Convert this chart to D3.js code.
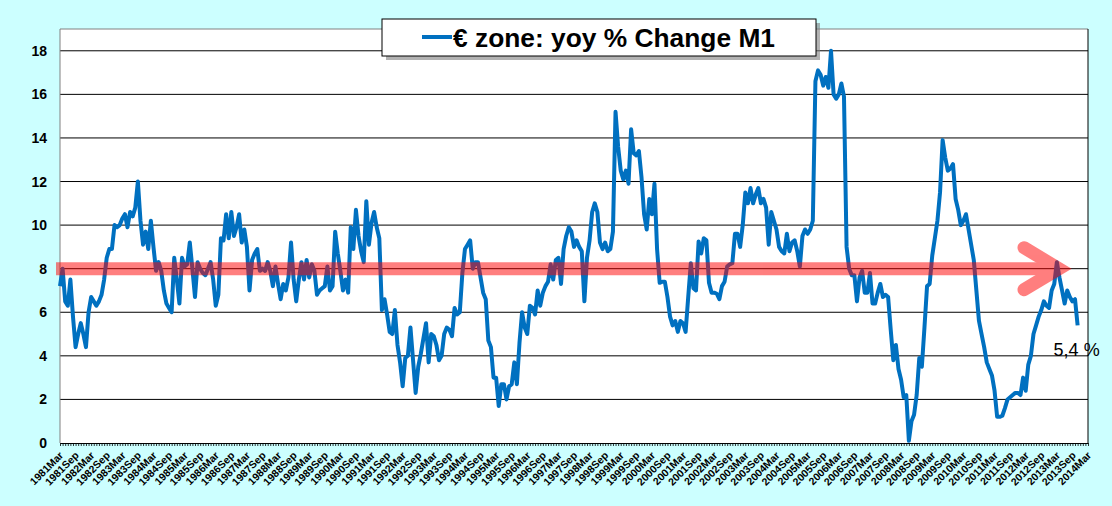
<!DOCTYPE html>
<html>
<head>
<meta charset="utf-8">
<script src="https://cdn.jsdelivr.net/npm/d3@7"></script>
<style>
body { margin: 0; background: #ccffff; }
svg { display: block; font-family: "Liberation Sans", Arial, sans-serif; }
</style>
</head>
<body>
<div id="chart"></div>
<script>
// monthly yoy % change of euro zone M1, first value = 1981Mar
var m1Growth = [
  7.2, 8.0, 6.5, 6.3, 7.5, 5.8, 4.4, 5.0, 5.5, 5.0,
  4.4, 6.0, 6.7, 6.5, 6.3, 6.5, 6.8, 7.5, 8.5, 8.9,
  8.9, 10.0, 9.9, 10.0, 10.3, 10.5, 9.9, 10.6, 10.4, 10.8,
  12.0, 10.2, 9.1, 9.7, 8.9, 10.2, 9.0, 7.9, 8.3, 7.9,
  7.0, 6.4, 6.2, 6.0, 8.5, 7.5, 6.4, 8.5, 8.1, 8.2,
  9.2, 8.0, 6.7, 8.3, 8.0, 7.8, 7.7, 8.0, 8.3, 7.5,
  6.3, 6.8, 9.4, 9.3, 10.5, 9.4, 10.6, 9.5, 9.9, 10.5,
  9.2, 9.8, 9.0, 7.0, 8.4, 8.7, 8.9, 7.9, 8.0, 7.9,
  8.3, 7.9, 7.2, 8.1, 7.3, 6.6, 7.3, 7.0, 7.6, 9.2,
  7.5, 6.5, 7.5, 8.3, 7.5, 8.4, 7.6, 8.2, 7.9, 6.8,
  7.0, 7.1, 7.2, 8.1, 7.0, 7.2, 9.7, 8.7, 7.9, 7.0,
  7.5, 6.9, 9.9, 8.9, 10.7, 9.5, 8.8, 8.3, 11.1, 9.1,
  10.1, 10.6, 9.9, 9.4, 6.1, 6.6, 5.9, 5.1, 5.0, 6.1,
  4.5, 3.7, 2.6, 3.9, 4.0, 5.3, 3.8, 2.3, 3.5, 4.1,
  4.8, 5.5, 3.7, 5.0, 4.9, 4.5, 3.8, 4.0, 5.0, 5.3,
  5.2, 4.9, 6.2, 5.9, 6.0, 7.8, 8.9, 9.1, 9.3, 8.0,
  8.3, 8.3, 7.6, 6.9, 6.6, 4.7, 4.4, 3.0, 3.0, 1.7,
  2.7, 2.7, 2.0, 2.6, 2.7, 3.7, 2.7, 4.6, 6.0, 5.3,
  5.0, 6.3, 6.2, 5.9, 7.0, 6.3, 6.9, 7.2, 7.4, 8.2,
  7.5, 8.4, 8.5, 7.3, 8.9, 9.5, 9.9, 9.7, 9.0, 9.3,
  9.0, 8.8, 6.5, 8.5, 9.3, 10.6, 11.0, 10.6, 9.2, 8.9,
  9.2, 8.8, 8.9, 9.7, 15.2, 13.6, 12.5, 12.1, 12.5, 11.9,
  14.4, 13.3, 13.2, 13.4, 12.2, 10.5, 9.8, 11.2, 10.5, 11.9,
  8.9, 7.35, 7.4, 7.4, 6.7, 5.8, 5.4, 5.6, 5.1, 5.6,
  5.5, 5.1, 6.7, 8.25, 7.1, 7.0, 9.25, 8.7, 9.4, 9.3,
  7.35, 6.9, 6.9, 6.85, 6.6, 7.2, 7.4, 8.1, 8.2, 8.25,
  9.6, 9.6, 9.0, 10.0, 11.5, 11.0, 11.7, 11.0, 11.4, 11.7,
  11.0, 11.2, 10.8, 9.1, 10.6, 10.2, 9.8, 9.0, 8.8, 8.7,
  9.6, 8.8, 9.2, 9.3, 8.8, 8.1, 9.5, 9.8, 9.6, 9.8,
  10.2, 16.6, 17.1, 16.9, 16.4, 16.8, 16.3, 18.0, 16.0, 15.8,
  16.0, 16.5, 15.9, 9.0, 8.0, 7.7, 7.7, 6.5, 7.6, 7.9,
  6.9, 6.9, 7.8, 6.4, 6.4, 6.9, 7.3, 6.7, 6.8, 6.7,
  5.2, 3.8, 4.5, 3.4, 2.9, 2.1, 2.2, 0.1, 1.0, 1.3,
  2.2, 3.9, 3.5, 5.3, 7.2, 7.3, 8.6, 9.4, 10.2, 11.5,
  13.9, 13.1, 12.5, 12.6, 12.8, 11.2, 10.7, 10.0, 10.2, 10.5,
  9.8, 9.1, 8.4, 7.0, 5.6, 5.0, 4.4, 3.7, 3.4, 3.1,
  2.4, 1.2, 1.2, 1.25, 1.6, 2.0, 2.1, 2.2, 2.3, 2.3,
  2.2, 3.0, 2.4, 3.6, 4.0, 5.0, 5.4, 5.8, 6.1, 6.5,
  6.3, 6.2, 7.0, 7.3, 8.3, 7.6, 7.0, 6.4, 7.0, 6.7,
  6.5, 6.6, 5.4
];

// category axis runs 1981Mar .. 2014Mar (monthly), labelled every 6 months
var firstYear = 1981;
var monthCount = 397;
var labelMonths = d3.range(0, monthCount, 6);
var tickLabels = labelMonths.map(function(i) {
    return (firstYear + Math.floor(i / 12)) + (i % 12 === 0 ? "Mar" : "Sep");
});
var yTicks = [0, 2, 4, 6, 8, 10, 12, 14, 16, 18];

var legendText = "€ zone: yoy % Change M1";
var lastLabel = "5,4 %";
var targetRate = 8;

var svgWidth = 1112;
var svgHeight = 506;

var margin = {
    top: 29,
    bottom: 63,
    right: 24,
    left: 60
};

var height = svgHeight - margin.top - margin.bottom;
var width = svgWidth - margin.left - margin.right;

var svg = d3.select("#chart")
    .append("svg")
    .attr("width", svgWidth)
    .attr("height", svgHeight);

svg.append("rect")
    .attr("width", svgWidth)
    .attr("height", svgHeight)
    .attr("fill", "#ccffff");

var chartGroup = svg.append("g")
    .attr("transform", `translate(${margin.left}, ${margin.top})`);

var x = d3.scaleLinear().domain([0, monthCount - 1]).range([0, width]);
var y = d3.scaleLinear().domain([0, 19]).range([height, 0]);

// plot area
chartGroup.append("rect")
    .attr("width", width)
    .attr("height", height)
    .attr("fill", "#fff");

// gridlines
chartGroup.selectAll(".grid")
    .data(yTicks.filter(d => d > 0))
    .enter().append("line")
    .attr("x1", 0)
    .attr("x2", width)
    .attr("y1", d => y(d))
    .attr("y2", d => y(d))
    .attr("stroke", "#000")
    .attr("stroke-width", 1);

// frame: grey top and left, black right
chartGroup.append("path")
    .attr("d", `M0,${height}V0H${width}`)
    .attr("fill", "none")
    .attr("stroke", "#808080")
    .attr("stroke-width", 1);
chartGroup.append("line")
    .attr("x1", width).attr("x2", width)
    .attr("y1", 0).attr("y2", height)
    .attr("stroke", "#000");

// y labels
chartGroup.selectAll(".ylab")
    .data(yTicks)
    .enter().append("text")
    .attr("x", -13)
    .attr("y", d => y(d))
    .attr("dy", "0.36em")
    .attr("text-anchor", "end")
    .attr("font-size", "14px")
    .attr("font-weight", "bold")
    .attr("fill", "#000")
    .text(d => d);

// x axis with monthly ticks
var bottomAxis = d3.axisBottom(x)
    .tickValues(d3.range(0, monthCount))
    .tickSize(3)
    .tickSizeOuter(0)
    .tickFormat("");

var xAxis = chartGroup.append("g")
    .attr("transform", `translate(0, ${height})`)
    .call(bottomAxis);
xAxis.select(".domain").attr("stroke", "#000").attr("stroke-width", 1.2);
xAxis.selectAll(".tick line").attr("stroke", "#000").attr("stroke-width", 0.8);

chartGroup.selectAll(".xlab")
    .data(labelMonths)
    .enter().append("text")
    .attr("transform", (d, i) => `translate(${x(d) + 4}, ${height + 13}) rotate(-45)`)
    .attr("text-anchor", "end")
    .attr("font-size", "10.5px")
    .attr("font-weight", "bold")
    .attr("fill", "#000")
    .text((d, i) => tickLabels[i]);

// the series
var line = d3.line()
    .x((d, i) => x(i))
    .y(d => y(d))
    .curve(d3.curveLinear);

chartGroup.append("path")
    .datum(m1Growth)
    .attr("d", line)
    .attr("fill", "none")
    .attr("stroke", "#0070c0")
    .attr("stroke-width", 4)
    .attr("stroke-linejoin", "round");

// translucent red arrow at 8 %
var arrowY = y(targetRate);
var arrowG = chartGroup.append("g").attr("opacity", 0.5);
arrowG.append("path")
    .attr("d", `M-4,${arrowY}H996`)
    .attr("stroke", "red")
    .attr("stroke-width", 13)
    .attr("fill", "none");
arrowG.append("path")
    .attr("d", `M964,${arrowY - 21}L999,${arrowY}L964,${arrowY + 21}`)
    .attr("stroke", "red")
    .attr("stroke-width", 13)
    .attr("stroke-linecap", "round")
    .attr("stroke-linejoin", "miter")
    .attr("fill", "none");

// last value label
chartGroup.append("text")
    .attr("x", x(m1Growth.length - 1) - 24)
    .attr("y", y(4.0))
    .attr("font-size", "18px")
    .attr("fill", "#000")
    .text(lastLabel);

// legend
var legend = svg.append("g").attr("transform", "translate(382, 19)");
legend.append("rect")
    .attr("x", 4).attr("y", 4)
    .attr("width", 434).attr("height", 37)
    .attr("fill", "#7f7f7f")
    .attr("opacity", 0.6);
legend.append("rect")
    .attr("width", 434).attr("height", 37)
    .attr("fill", "#fff")
    .attr("stroke", "#000")
    .attr("stroke-width", 1);
legend.append("line")
    .attr("x1", 40).attr("x2", 70)
    .attr("y1", 18).attr("y2", 18)
    .attr("stroke", "#0070c0")
    .attr("stroke-width", 4);
legend.append("text")
    .attr("x", 71)
    .attr("y", 28)
    .attr("font-size", "26px")
    .attr("font-weight", "bold")
    .attr("textLength", 322)
    .attr("lengthAdjust", "spacingAndGlyphs")
    .attr("fill", "#000")
    .text(legendText);
</script>
</body>
</html>
